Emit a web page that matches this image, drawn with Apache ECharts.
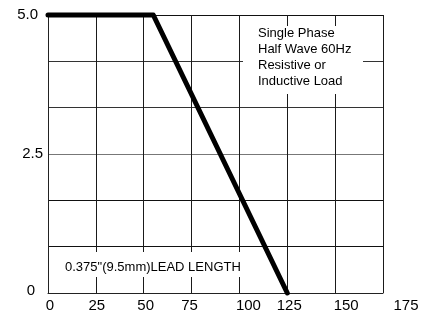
<!DOCTYPE html>
<html>
<head>
<meta charset="utf-8">
<script src="https://cdn.jsdelivr.net/npm/echarts@6/dist/echarts.min.js"></script>
<style>
html,body{margin:0;padding:0;background:#fff;}
#chart{width:431px;height:318px;}
</style>
</head>
<body>
<div id="chart"></div>
<script>
// ---- data ----
var curveX = [0, 55, 125];
var curveY = [5.0, 5.0, 0];
var xTickLabels = ['0', '25', '50', '75', '100', '125', '150', '175'];
var yTickLabels = ['0', '2.5', '5.0'];
var yTickValues = [0, 2.5, 5];
var noteLines = ['Single Phase', 'Half Wave 60Hz', 'Resistive or', 'Inductive Load'];
var leadNote = '0.375"(9.5mm)LEAD LENGTH';

// ---- style config ----
var FONT = '"Liberation Sans", Arial, sans-serif';
var xLabelShift = {'0': 2, '25': 1, '50': 2, '75': -2, '100': 9, '125': 2, '150': 11, '175': 23};
var yLabelPad = {'0': [0, 8, 5, 0], '2.5': [0, 0, 0, 0], '5.0': [0, 5, 0, 0]};

var xRich = {};
xTickLabels.forEach(function (t, i) {
  var s = xLabelShift[t] || 0;
  xRich['x' + i] = {
    fontFamily: FONT, fontSize: 15, color: '#000',
    padding: s >= 0 ? [0, 0, 0, 2 * s] : [0, -2 * s, 0, 0]
  };
});
var yRich = {};
yTickLabels.forEach(function (t, i) {
  yRich['y' + i] = { fontFamily: FONT, fontSize: 15, color: '#000', padding: yLabelPad[t] };
});

var seriesData = curveX.map(function (x, i) { return [x, curveY[i]]; });

var chart = echarts.init(document.getElementById('chart'));
chart.setOption({
  animation: false,
  backgroundColor: '#fff',
  grid: { left: 48, right: 48, top: 15, bottom: 25, containLabel: false },
  xAxis: {
    type: 'value', min: 0, max: 175, interval: 25,
    axisLine: { show: true, lineStyle: { color: '#222', width: 1 } },
    axisTick: { show: false },
    splitLine: { show: true, lineStyle: { color: '#1a1a1a', width: 1 } },
    axisLabel: {
      margin: 5,
      formatter: function (v) {
        var idx = xTickLabels.indexOf(String(Math.round(v)));
        return idx < 0 ? '' : '{x' + idx + '|' + xTickLabels[idx] + '}';
      },
      rich: xRich
    }
  },
  yAxis: {
    type: 'value', min: 0, max: 5, interval: 5 / 6,
    axisLine: { show: true, lineStyle: { color: '#222', width: 1 } },
    axisTick: { show: false },
    splitLine: { show: true, lineStyle: { color: ['#111', '#111', '#111', '#777', '#333', '#333', '#111'], width: 1 } },
    axisLabel: {
      margin: 5,
      formatter: function (v) {
        for (var i = 0; i < yTickValues.length; i++) {
          if (Math.abs(v - yTickValues[i]) < 1e-6) return '{y' + i + '|' + yTickLabels[i] + '}';
        }
        return '';
      },
      rich: yRich
    }
  },
  series: [{
    type: 'line',
    data: seriesData,
    symbol: 'none',
    clip: false,
    z: 10,
    lineStyle: { color: '#000', width: 5, cap: 'round', join: 'round' }
  }],
  graphic: [
    { type: 'rect', z: 50, shape: { x: 243, y: 26, width: 120, height: 68 }, style: { fill: '#fff' } },
    { type: 'text', z: 51, x: 258, y: 25,
      style: { text: noteLines.join('\n'), fontFamily: FONT, fontSize: 13, lineHeight: 16, fill: '#000', verticalAlign: 'top' } },
    { type: 'rect', z: 50, shape: { x: 58, y: 252, width: 188, height: 25 }, style: { fill: '#fff' } },
    { type: 'text', z: 51, x: 65, y: 267,
      style: { text: leadNote, fontFamily: FONT, fontSize: 13, fill: '#000', verticalAlign: 'middle' } }
  ]
});
</script>
</body>
</html>
